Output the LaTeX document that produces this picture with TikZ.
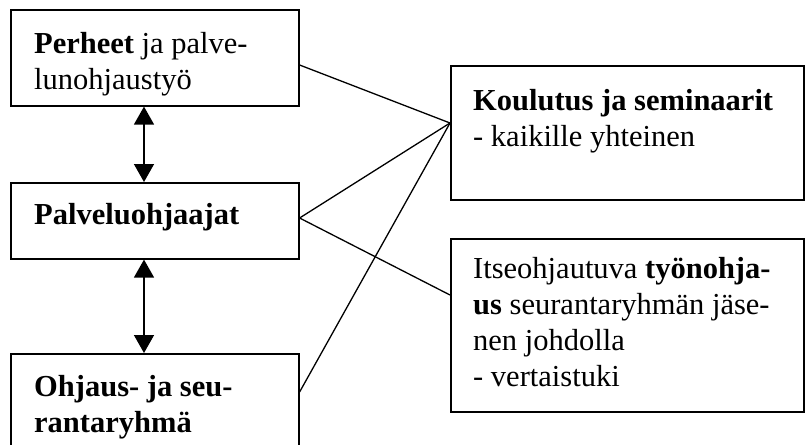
\documentclass[tikz,border=0pt]{standalone}
\usepackage{fontspec}
\setmainfont{Liberation Serif}
\usetikzlibrary{arrows.meta,calc}
\begin{document}
\begin{tikzpicture}[x=1pt,y=-1pt,
  box/.style={draw,line width=1.6pt,rectangle,inner sep=0pt,anchor=north west},
  % base anchor of a multi-line text sits on its last line
  boxtext/.style={anchor=base west,inner sep=0pt,align=left,
    font=\fontsize{30.5}{36}\selectfont},
  link/.style={line width=1.3pt},
  twoway/.style={line width=1.5pt,
    {Triangle[length=18pt,width=20pt]}-{Triangle[length=18pt,width=20pt]}}
]
\useasboundingbox (0,0) rectangle (807,445);

% left column
\node[box,minimum width=288pt,minimum height=96pt] (perheet) at (10,9) {};
\node[box,minimum width=288pt,minimum height=76pt] (palv) at (10,182) {};
\node[box,minimum width=288pt,minimum height=100pt] (ohj) at (10,353) {};

% right column
\node[box,minimum width=353pt,minimum height=134pt] (koul) at (450,65) {};
\node[box,minimum width=353pt,minimum height=173pt] (itse) at (450,238) {};

% box texts
\node[boxtext] (perheet-t) at ($(perheet.north west)+(24,80)$)
  {\textbf{Perheet} ja palve-\\lunohjaustyö};
\node[boxtext] (palv-t) at ($(palv.north west)+(24,42)$)
  {\textbf{Palveluohjaajat}};
\node[boxtext] (ohj-t) at ($(ohj.north west)+(24,79)$)
  {\textbf{Ohjaus- ja seu-}\\\textbf{rantaryhmä}};
\node[boxtext] (koul-t) at ($(koul.north west)+(23,81)$)
  {\textbf{Koulutus ja seminaarit}\\- kaikille yhteinen};
\node[boxtext] (itse-t) at ($(itse.north west)+(23,148)$)
  {Itseohjautuva \textbf{työnohja-}\\\textbf{us} seurantaryhmän jäse-\\nen johdolla\\- vertaistuki};

% connection points
\coordinate (koul-in) at ($(koul.north west)+(0,58)$);
\coordinate (itse-in) at ($(itse.north west)+(0,57)$);
\coordinate (perheet-out) at ($(perheet.north east)+(0,56)$);
\coordinate (palv-out) at ($(palv.north east)+(0,36)$);
\coordinate (ohj-out) at ($(ohj.north east)+(0,39)$);

\draw[link] (perheet-out) -- (koul-in);
\draw[link] (palv-out) -- (koul-in);
\draw[link] (ohj-out) -- (koul-in);
\draw[link] (palv-out) -- (itse-in);

% two-way arrows between the left boxes
\draw[twoway] ($(perheet.south west)+(134,0)$) -- ($(palv.north west)+(134,0)$);
\draw[twoway] ($(palv.south west)+(134,0)$) -- ($(ohj.north west)+(134,0)$);
\end{tikzpicture}
\end{document}
